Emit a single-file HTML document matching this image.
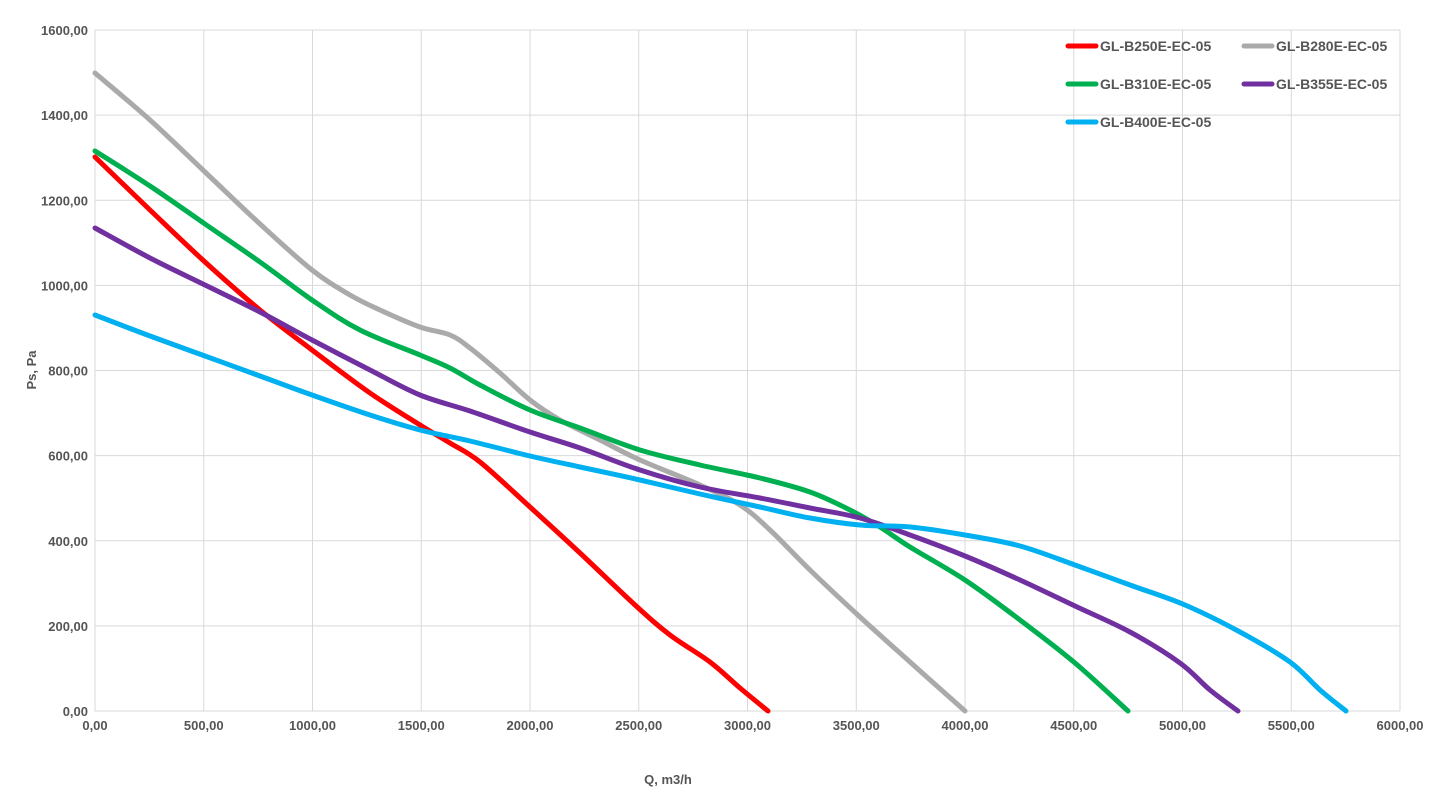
<!DOCTYPE html>
<html><head><meta charset="utf-8"><style>
body{margin:0;background:#fff;}
svg text{font-family:"Liberation Sans",sans-serif;font-weight:bold;fill:#555;font-size:13px;}
svg text.lg{font-size:14px;}
</style></head><body>
<svg id="s" width="1446" height="792" xmlns="http://www.w3.org/2000/svg">
<g id="grid" stroke="#d9d9d9" stroke-width="1"></g>
<g id="lab"></g>
<text x="36" y="370" transform="rotate(-90 36 370)" text-anchor="middle">Ps, Pa</text>
<text x="668" y="784" text-anchor="middle">Q, m3/h</text>
<g id="curves" fill="none" stroke-width="5" stroke-linecap="round" stroke-linejoin="round"></g>
<g stroke-width="5" stroke-linecap="round">
<line x1="1068" y1="46" x2="1096" y2="46" stroke="#ff0000"/>
<line x1="1244" y1="46" x2="1272" y2="46" stroke="#aaaaaa"/>
<line x1="1068" y1="84" x2="1096" y2="84" stroke="#00b050"/>
<line x1="1244" y1="84" x2="1272" y2="84" stroke="#7030a0"/>
<line x1="1068" y1="122" x2="1096" y2="122" stroke="#00b0f0"/>
</g>
<text class="lg" x="1100" y="51">GL-B250E-EC-05</text>
<text class="lg" x="1276" y="51">GL-B280E-EC-05</text>
<text class="lg" x="1100" y="89">GL-B310E-EC-05</text>
<text class="lg" x="1276" y="89">GL-B355E-EC-05</text>
<text class="lg" x="1100" y="127">GL-B400E-EC-05</text>
</svg>
<script>
var NS="http://www.w3.org/2000/svg";
function el(t,a,p){var e=document.createElementNS(NS,t);for(var k in a)e.setAttribute(k,a[k]);p.appendChild(e);return e;}
var g=document.getElementById('grid'),lab=document.getElementById('lab');
var x0=95,x1=1400,y0=711,y1=30;
for(var i=0;i<=12;i++){var x=x0+(x1-x0)*i/12;el('line',{x1:x,y1:y1,x2:x,y2:y0},g);
var t=el('text',{x:x,y:730,'text-anchor':'middle'},lab);t.textContent=(i*500).toFixed(2).replace('.',',');}
for(var j=0;j<=8;j++){var y=y0-(y0-y1)*j/8;el('line',{x1:x0,y1:y,x2:x1,y2:y},g);
var t=el('text',{x:88,y:y+5,'text-anchor':'end'},lab);t.textContent=(j*200).toFixed(2).replace('.',',');}
function path(p){var d='M'+p[0][0]+','+p[0][1];for(var i=0;i<p.length-1;i++){var a=p[i-1]||p[i],b=p[i],c=p[i+1],e=p[i+2]||c;
d+=' C'+(b[0]+(c[0]-a[0])/6)+','+(b[1]+(c[1]-a[1])/6)+' '+(c[0]-(e[0]-b[0])/6)+','+(c[1]-(e[1]-b[1])/6)+' '+c[0]+','+c[1];}return d;}
var S=[
["#aaaaaa",[[95,73],[150,120],[205,172],[260,224],[312,270],[350,295],[380,310],[420,327],[450,335],[470,348],[500,373],[530,400],[560,420],[600,440],[640,460],[700,485],[740,505],[770,530],[810,570],[860,617],[910,662],[965,711]]],
["#ff0000",[[95,157],[150,210],[205,262],[260,310],[312,350],[370,393],[420,425],[450,443],[480,462],[530,507],[580,553],[635,605],[670,635],[710,662],[740,688],[768,711]]],
["#00b050",[[95,151],[150,186],[205,224],[260,262],[312,300],[360,330],[420,355],[450,368],[480,385],[530,410],[580,428],[640,450],[700,465],[760,478],[810,492],[850,510],[880,527],[910,547],[965,580],[1020,620],[1075,663],[1128,711]]],
["#7030a0",[[95,228],[150,258],[205,285],[260,312],[312,340],[370,370],[420,395],[470,411],[530,432],[580,448],[640,470],[700,487],[760,498],[810,508],[860,518],[910,535],[965,556],[1020,580],[1075,606],[1130,632],[1180,663],[1210,690],[1238,711]]],
["#00b0f0",[[95,315],[150,336],[205,356],[260,376],[312,395],[370,415],[420,430],[470,441],[530,456],[580,467],[640,480],[700,494],[760,507],[810,518],[860,525],[910,527],[965,535],[1020,546],[1075,565],[1130,585],[1185,605],[1240,632],[1290,662],[1320,690],[1346,711]]]];
var cg=document.getElementById('curves');
S.forEach(function(s){el('path',{d:path(s[1]),stroke:s[0]},cg);});
</script>
</body></html>
